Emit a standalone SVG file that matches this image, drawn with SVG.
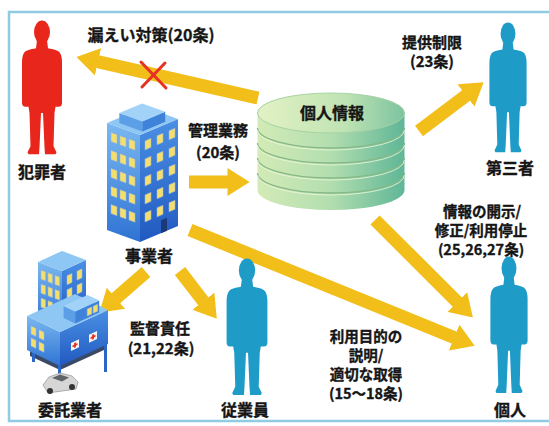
<svg xmlns="http://www.w3.org/2000/svg" xmlns:xlink="http://www.w3.org/1999/xlink" width="549" height="426" viewBox="0 0 549 426">
  <style>
    .lbl { font-family: "Noto Sans CJK JP", "Noto Sans CJK SC", sans-serif; font-weight: 700; fill: #151515; stroke: #151515; stroke-width: 0.35; text-anchor: middle; }
    .node { font-size: 16px; }
    .note { font-size: 15px; }
    .small { font-size: 14.5px; }
    .arrow { stroke: #f2be1a; stroke-width: 13; fill: none; stroke-linecap: butt; marker-end: url(#head); }
    .win { fill: #f3de6e; stroke: #9fb7d6; stroke-width: 0.5; }
    .cross { stroke: #e53222; stroke-width: 3; stroke-linecap: round; }
  </style>
  <defs>
    <marker id="head" viewBox="0 0 22 28" refX="0.5" refY="14" markerWidth="1.7" markerHeight="2.15" orient="auto" markerUnits="strokeWidth" preserveAspectRatio="none">
      <path d="M0,0 L22,14 L0,28 Z" fill="#f2be1a"/>
    </marker>
    <!-- standing figure, origin at top of head, about 133 tall -->
    <g id="man">
      <ellipse cx="0" cy="12" rx="8" ry="11.5"/>
      <path d="M-5,20 L5,20 L6,28 C12,29 16,30 17.5,32 Q20,35 20,42 L20,82 Q20,86 16.5,86 L13.5,86 L12.5,92 L11.5,125 L14.5,131 L13.5,133 L3,133 L2.5,126 L1,92 L-1,92 L-2.5,126 L-3,133 L-13.5,133 L-14.5,131 L-11.5,125 L-12.5,92 L-13.5,86 L-16.5,86 Q-20,86 -20,82 L-20,42 Q-20,35 -17.5,32 C-16,30 -12,29 -6,28 Z"/>
    </g>
    <linearGradient id="cylSide" x1="0" y1="0" x2="1" y2="0">
      <stop offset="0" stop-color="#d3ebb6"/>
      <stop offset="0.5" stop-color="#b2deaf"/>
      <stop offset="1" stop-color="#5fb697"/>
    </linearGradient>
    <linearGradient id="cylTop" x1="0" y1="0" x2="1" y2="0">
      <stop offset="0" stop-color="#e3f2c4"/>
      <stop offset="0.6" stop-color="#bfe3b3"/>
      <stop offset="1" stop-color="#7cc3a0"/>
    </linearGradient>
    <linearGradient id="faceL" x1="0" y1="0" x2="0" y2="1">
      <stop offset="0" stop-color="#7ab8f0"/>
      <stop offset="1" stop-color="#2f73d4"/>
    </linearGradient>
    <linearGradient id="faceR" x1="0" y1="0" x2="0" y2="1">
      <stop offset="0" stop-color="#4a90e4"/>
      <stop offset="1" stop-color="#2159c0"/>
    </linearGradient>
  </defs>

  <rect width="549" height="426" fill="#ffffff"/>
  <!-- outer frame -->
  <rect x="9" y="12" width="560" height="409" fill="none" stroke="#8fcbe3" stroke-width="2.5"/>

  <!-- connectors -->
  <g id="connectors">
    <line class="arrow" x1="258" y1="98" x2="97.5" y2="61.7"/>
    <line class="arrow" x1="189" y1="182" x2="228" y2="182"/>
    <line class="arrow" x1="419" y1="131" x2="466.4" y2="95.2"/>
    <line class="arrow" x1="375" y1="220" x2="457.6" y2="302.3"/>
    <line class="arrow" x1="190" y1="230" x2="454.6" y2="337.7"/>
    <line class="arrow" x1="146" y1="272" x2="115.6" y2="298.5"/>
    <line class="arrow" x1="180" y1="271" x2="203.6" y2="301.6"/>
    <!-- blocked leak -->
    <line class="cross" x1="141" y1="62" x2="166" y2="88"/>
    <line class="cross" x1="165" y1="63" x2="142" y2="87"/>
  </g>

  <!-- labels on connectors -->
  <g id="connector-labels">
    <text class="lbl node" x="151" y="41">漏えい対策(20条)</text>
    <text class="lbl note" x="218" y="136">管理業務<tspan x="218" dy="22">(20条)</tspan></text>
    <text class="lbl note" x="432" y="48">提供制限<tspan x="432" dy="19">(23条)</tspan></text>
    <text class="lbl small" x="482" y="217">情報の開示/<tspan x="481" dy="19">修正/利用停止</tspan><tspan x="481" dy="19">(25,26,27条)</tspan></text>
    <text class="lbl note" x="160" y="334">監督責任<tspan x="161" dy="20">(21,22条)</tspan></text>
    <text class="lbl small" x="366" y="342">利用目的の<tspan x="366" dy="19">説明/</tspan><tspan x="366" dy="19">適切な取得</tspan><tspan x="366" dy="19">(15～18条)</tspan></text>
  </g>

  <!-- offender -->
  <g id="offender">
    <use xlink:href="#man" fill="#e8261c" stroke="none" transform="translate(42,20) scale(1,1.01)"/>
    <text class="lbl node" x="42" y="178">犯罪者</text>
  </g>

  <!-- third party -->
  <g id="third-party">
    <use xlink:href="#man" fill="#1f9bc8" transform="translate(508,22) scale(0.93,0.98)"/>
    <text class="lbl node" x="510" y="174">第三者</text>
  </g>

  <!-- the individual -->
  <g id="individual">
    <use xlink:href="#man" fill="#1f9bc8" transform="translate(509,256) scale(0.93,1.03)"/>
    <text class="lbl node" x="510" y="416">個人</text>
  </g>

  <!-- employee -->
  <g id="employee">
    <use xlink:href="#man" fill="#1f9bc8" transform="translate(247,258) scale(1.02,1.03)"/>
    <text class="lbl node" x="245" y="416">従業員</text>
  </g>

  <!-- personal data store -->
  <g id="personal-data">
    <path d="M257.5,113 L257.5,190 A73.5,20 0 0 0 404.5,190 L404.5,113 Z" fill="url(#cylSide)"/>
    <g fill="none" stroke="#86b886" stroke-width="1.3">
      <path d="M257.5,128 A73.5,20 0 0 0 404.5,128"/>
      <path d="M257.5,143 A73.5,20 0 0 0 404.5,143"/>
      <path d="M257.5,158 A73.5,20 0 0 0 404.5,158"/>
      <path d="M257.5,173 A73.5,20 0 0 0 404.5,173"/>
    </g>
    <g fill="none" stroke="#eef8dc" stroke-width="1" opacity="0.8">
      <path d="M257.5,130 A73.5,20 0 0 0 404.5,130"/>
      <path d="M257.5,145 A73.5,20 0 0 0 404.5,145"/>
      <path d="M257.5,160 A73.5,20 0 0 0 404.5,160"/>
      <path d="M257.5,175 A73.5,20 0 0 0 404.5,175"/>
    </g>
    <ellipse cx="331" cy="113" rx="73.5" ry="20" fill="url(#cylTop)" stroke="#a6d3a4" stroke-width="1"/>
    <text class="lbl node" x="332" y="119">個人情報</text>
  </g>

  <!-- business operator: office tower -->
  <g id="operator">
    <polygon points="107,123 140,135 140,242 107,230" fill="url(#faceL)"/>
    <polygon points="140,135 178,119 178,226 140,242" fill="url(#faceR)"/>
    <polygon points="107,123 140,135 178,119 145,107" fill="#8ec6f4"/>
    <polygon points="119.3,123 142.4,131.4 142.4,121.4 119.3,113" fill="#5d9fe6"/>
    <polygon points="142.4,131.4 165.2,121.8 165.2,111.8 142.4,121.4" fill="#3f82da"/>
    <polygon points="119.3,113 142.4,121.4 165.2,111.8 142.1,103.4" fill="#a2d2f8"/>
    <g transform="matrix(1,0.3636,0,1,107,123)">
      <rect class="win" x="4" y="8" width="6" height="9"/><rect class="win" x="13" y="8" width="6" height="9"/><rect class="win" x="22" y="8" width="6" height="9"/>
      <rect class="win" x="4" y="26" width="6" height="9"/><rect class="win" x="13" y="26" width="6" height="9"/><rect class="win" x="22" y="26" width="6" height="9"/>
      <rect class="win" x="4" y="44" width="6" height="9"/><rect class="win" x="13" y="44" width="6" height="9"/><rect class="win" x="22" y="44" width="6" height="9"/>
      <rect class="win" x="4" y="62" width="6" height="9"/><rect class="win" x="13" y="62" width="6" height="9"/><rect class="win" x="22" y="62" width="6" height="9"/>
      <rect class="win" x="4" y="80" width="6" height="9"/><rect class="win" x="13" y="80" width="6" height="9"/><rect class="win" x="22" y="80" width="6" height="9"/>
    </g>
    <g transform="matrix(1,-0.421,0,1,140,135)">
      <rect class="win" x="5" y="8" width="6" height="9"/><rect class="win" x="17" y="8" width="6" height="9"/><rect class="win" x="29" y="8" width="6" height="9"/>
      <rect class="win" x="5" y="26" width="6" height="9"/><rect class="win" x="17" y="26" width="6" height="9"/><rect class="win" x="29" y="26" width="6" height="9"/>
      <rect class="win" x="5" y="44" width="6" height="9"/><rect class="win" x="17" y="44" width="6" height="9"/><rect class="win" x="29" y="44" width="6" height="9"/>
      <rect class="win" x="5" y="62" width="6" height="9"/><rect class="win" x="17" y="62" width="6" height="9"/><rect class="win" x="29" y="62" width="6" height="9"/>
      <rect class="win" x="5" y="80" width="6" height="9"/><rect class="win" x="17" y="80" width="6" height="9"/><rect class="win" x="29" y="80" width="6" height="9"/>
      <rect x="21" y="94" width="6" height="13" fill="#1b3a78"/>
    </g>
    <text class="lbl node" x="149" y="262">事業者</text>
  </g>

  <!-- contractor: building complex with car -->
  <g id="contractor">
    <!-- tower block -->
    <polygon points="38,262 62,271 62,325 38,316" fill="url(#faceL)"/>
    <polygon points="62,271 86,260 86,314 62,325" fill="url(#faceR)"/>
    <polygon points="38,262 62,271 86,260 62,251" fill="#8ec6f4"/>
    <g transform="matrix(1,0.375,0,1,38,262)">
      <rect class="win" x="3" y="7" width="4.5" height="9"/><rect class="win" x="10" y="7" width="4.5" height="9"/><rect class="win" x="17" y="7" width="4.5" height="9"/>
      <rect class="win" x="3" y="21" width="4.5" height="9"/><rect class="win" x="10" y="21" width="4.5" height="9"/><rect class="win" x="17" y="21" width="4.5" height="9"/>
      <rect class="win" x="3" y="35" width="4.5" height="9"/><rect class="win" x="10" y="35" width="4.5" height="9"/><rect class="win" x="17" y="35" width="4.5" height="9"/>
    </g>
    <g transform="matrix(1,-0.458,0,1,62,271)">
      <rect class="win" x="5" y="7" width="5" height="9"/><rect class="win" x="15" y="7" width="5" height="9"/>
      <rect class="win" x="5" y="21" width="5" height="9"/><rect class="win" x="15" y="21" width="5" height="9"/>
      <rect class="win" x="5" y="35" width="5" height="9"/><rect class="win" x="15" y="35" width="5" height="9"/>
    </g>
    <!-- underside, pillars -->
    <polygon points="30,348 60,362 104,342 104,350 60,370 30,356" fill="#3a4a66"/>
    <rect x="32" y="348" width="3" height="14" fill="#2a66c8"/>
    <rect x="58" y="362" width="3" height="16" fill="#2a66c8"/>
    <rect x="104" y="340" width="3" height="32" fill="#2a66c8"/>
    <!-- main lower block -->
    <polygon points="27,316 60,332 60,366 27,350" fill="url(#faceL)"/>
    <polygon points="60,332 108,310 108,344 60,366" fill="url(#faceR)"/>
    <polygon points="27,316 60,332 108,310 75,294" fill="#8ec6f4"/>
    <g transform="matrix(1,0.485,0,1,27,316)">
      <rect class="win" x="4" y="8" width="5" height="8"/><rect class="win" x="12" y="8" width="5" height="8"/>
      <rect class="win" x="4" y="20" width="5" height="8"/><rect class="win" x="12" y="20" width="5" height="8"/>
    </g>
    <g transform="matrix(1,-0.458,0,1,60,332)">
      <rect x="11" y="16" width="8" height="8" fill="#f4f4f4"/>
      <path d="M15,17.5 V22.5 M12.5,20 H17.5" stroke="#e53222" stroke-width="1.8"/>
      <rect x="29" y="16" width="8" height="8" fill="#f4f4f4"/>
      <path d="M33,17.5 V22.5 M30.5,20 H35.5" stroke="#e53222" stroke-width="1.8"/>
    </g>
    <!-- raised block on the roof -->
    <polygon points="63.6,317.9 75.2,323.5 75.2,311.5 63.6,305.9" fill="#5d9fe6"/>
    <polygon points="75.2,323.5 99.2,312.5 99.2,300.5 75.2,311.5" fill="#3f82da"/>
    <polygon points="63.6,305.9 75.2,311.5 99.2,300.5 87.6,294.9" fill="#a2d2f8"/>
    <g transform="matrix(1,-0.458,0,1,75.2,323.5)">
      <rect class="win" x="12" y="-9" width="4.5" height="7"/><rect class="win" x="18" y="-9" width="4.5" height="7"/>
    </g>
    <!-- car -->
    <path d="M43,385 L49,377 L60,373 L72,376 L78,382 L76,389 L48,393 Z" fill="#d6d6d6" stroke="#9a9a9a" stroke-width="0.8"/>
    <path d="M52,378 L60,374.5 L69,377.5 L62,381.5 Z" fill="#5f6368"/>
    <circle cx="50" cy="391" r="3" fill="#333"/>
    <circle cx="72" cy="387" r="3" fill="#333"/>
    <text class="lbl node" x="70" y="416">委託業者</text>
  </g>
</svg>
